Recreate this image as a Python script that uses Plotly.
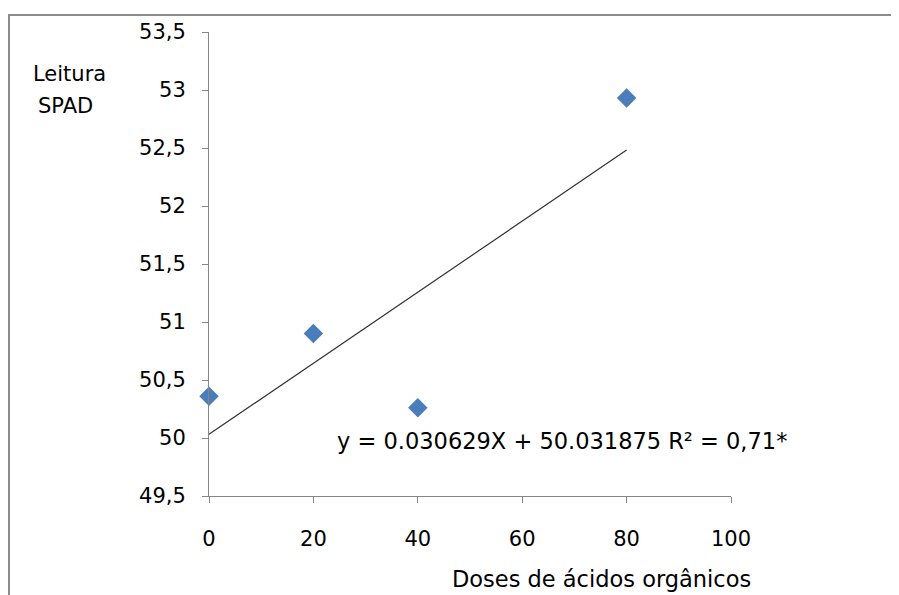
import plotly.graph_objects as go
import numpy as np

doses = [0, 20, 40, 80]
spad = [50.36, 50.90, 50.26, 52.93]
slope = 0.030629
intercept = 50.031875
line_x = [0, 80]
y_ticks = [49.5, 50, 50.5, 51, 51.5, 52, 52.5, 53, 53.5]
y_tick_labels = ["49,5", "50", "50,5", "51", "51,5", "52", "52,5", "53", "53,5"]
x_ticks = [0, 20, 40, 60, 80, 100]

FONT = "DejaVu Sans"
FS = 21
OFF = 8  # page body margin
W, H = 899 - OFF, 595 - OFF
L, R, T, B = 209 - OFF, 731 - OFF, 29 - OFF, 496 - OFF

fig = go.Figure()
lx = np.array(line_x, dtype=float)
fig.add_trace(go.Scatter(x=lx, y=intercept + slope * lx, mode="lines",
                         line=dict(color="#333333", width=1.2), showlegend=False,
                         hoverinfo="skip"))
fig.add_trace(go.Scatter(x=doses, y=spad, mode="markers",
                         marker=dict(symbol="diamond", size=15, color="#4a7ebb",
                                     line=dict(width=0)),
                         cliponaxis=False, showlegend=False))

def px(x):
    return (x - OFF - L) / (R - L)

def py(y):
    return (B - (y - OFF)) / (B - T)

fig.add_shape(type="rect", xref="paper", yref="paper",
              x0=px(9), x1=px(960), y0=py(660), y1=py(12),
              line=dict(color="#8c8c8c", width=2), fillcolor="rgba(0,0,0,0)", layer="below")

fig.add_annotation(text="y = 0.030629X + 50.031875 R² = 0,71*", xref="paper", yref="paper",
                   x=px(335), y=py(441), xanchor="left", yanchor="middle", showarrow=False,
                   font=dict(family=FONT, size=22.5, color="#000000"))
fig.add_annotation(text="Leitura", xref="paper", yref="paper",
                   x=px(31), y=py(71), xanchor="left", yanchor="middle", showarrow=False,
                   font=dict(family=FONT, size=FS, color="#000000"))
fig.add_annotation(text="SPAD", xref="paper", yref="paper",
                   x=px(36), y=py(103), xanchor="left", yanchor="middle", showarrow=False,
                   font=dict(family=FONT, size=FS, color="#000000"))
fig.add_annotation(text="Doses de ácidos orgânicos", xref="paper", yref="paper",
                   x=px(450), y=py(589), xanchor="left", yanchor="bottom", showarrow=False,
                   yshift=-6,
                   font=dict(family=FONT, size=22.5, color="#000000"))

axis_common = dict(showgrid=False, zeroline=False, showline=True, linecolor="#868686",
                   linewidth=1, ticks="outside", ticklen=6, tickcolor="#868686",
                   tickfont=dict(family=FONT, size=FS, color="#000000"))
fig.update_xaxes(range=[0, 100], tickvals=x_ticks, ticklabelstandoff=18, **axis_common)
fig.update_yaxes(range=[49.5, 53.5], tickvals=y_ticks, ticktext=y_tick_labels,
                 ticklabelstandoff=12, **axis_common)

fig.update_layout(width=W, height=H, margin=dict(l=L, r=W - R, t=T, b=H - B),
                  paper_bgcolor="white", plot_bgcolor="white",
                  font=dict(family=FONT, size=FS))
fig.write_html("out.html")
